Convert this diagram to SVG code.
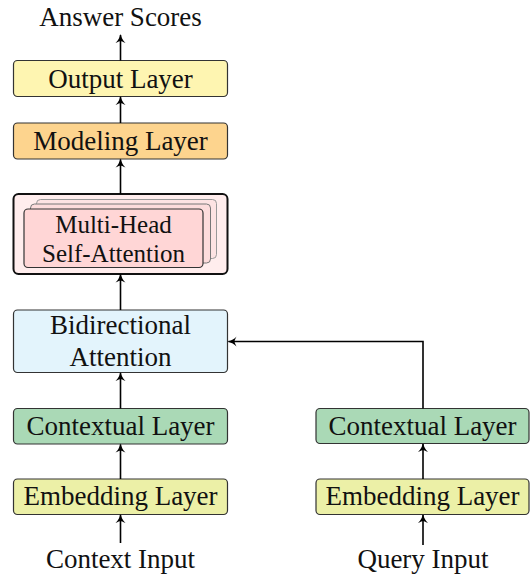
<svg xmlns="http://www.w3.org/2000/svg" width="531" height="577" viewBox="0 0 531 577">
<style>
text{font-family:"Liberation Serif","Times New Roman",serif;font-size:27px;fill:#111;text-anchor:middle}
.box{stroke:#333;stroke-width:1.2}
.small{font-size:25px}
.conn{fill:none;stroke:#000;stroke-width:1.6;marker-end:url(#arr)}
</style>
<defs>
<marker id="arr" markerUnits="userSpaceOnUse" viewBox="-10 -6 12 12" markerWidth="12" markerHeight="12" refX="0" refY="0" orient="auto">
<path d="M1,0 Q-5,-1.5 -8,-5 Q-6,-1 -6,0 Q-6,1 -8,5 Q-5,1.5 1,0 Z" fill="#000"/>
</marker>
</defs>
<rect width="531" height="577" fill="#fff"/>
<g id="answer-scores"><text x="120.5" y="26">Answer Scores</text></g>
<g id="output-layer"><rect class="box" x="13.5" y="60.5" width="214" height="36" rx="4" fill="#FEF5B1"/><text x="120.5" y="88">Output Layer</text></g>
<g id="modeling-layer"><rect class="box" x="13.5" y="123" width="214" height="36" rx="4" fill="#FDD48E"/><text x="120.5" y="150">Modeling Layer</text></g>
<g id="mhsa">
<rect x="13.5" y="194" width="214" height="80" rx="5" fill="#FFEDED" stroke="#111" stroke-width="2"/>
<rect x="36.5" y="199.5" width="180" height="59" rx="4" fill="#FDE3E3" stroke="#999" stroke-width="1"/>
<rect x="30.5" y="204" width="180" height="59" rx="4" fill="#FDDCDC" stroke="#777" stroke-width="1"/>
<rect x="24" y="209" width="179" height="58.5" rx="4" fill="#FFD6D6" stroke="#333" stroke-width="1.2"/>
<text class="small" x="113.5" y="233">Multi-Head</text>
<text class="small" x="113.5" y="261.5">Self-Attention</text>
</g>
<g id="bidirectional-attention"><rect class="box" x="13.5" y="310" width="214" height="62.5" rx="4" fill="#E3F4FC"/><text x="120.5" y="333.5">Bidirectional</text><text x="120.5" y="366">Attention</text></g>
<g id="context-contextual"><rect class="box" x="13.5" y="408.5" width="214" height="35.5" rx="4" fill="#AAD9B6"/><text x="120.5" y="435">Contextual Layer</text></g>
<g id="context-embedding"><rect class="box" x="13.5" y="479" width="214" height="35.5" rx="4" fill="#ECF0A7"/><text x="120.5" y="505">Embedding Layer</text></g>
<g id="context-input"><text x="120.5" y="568">Context Input</text></g>
<g id="query-contextual"><rect class="box" x="316" y="408.5" width="213" height="35" rx="4" fill="#AAD9B6"/><text x="422.5" y="435">Contextual Layer</text></g>
<g id="query-embedding"><rect class="box" x="316" y="479" width="213" height="35.5" rx="4" fill="#ECF0A7"/><text x="422.5" y="505">Embedding Layer</text></g>
<g id="query-input"><text x="423" y="568">Query Input</text></g>
<g id="connectors">
<path class="conn" d="M120.5,60.5 V35"/>
<path class="conn" d="M120.5,123 V97"/>
<path class="conn" d="M120.5,194 V159.5"/>
<path class="conn" d="M120.5,310 V274.5"/>
<path class="conn" d="M120.5,408.5 V373"/>
<path class="conn" d="M120.5,479 V444.5"/>
<path class="conn" d="M120.5,543 V515"/>
<path class="conn" d="M423,479 V444"/>
<path class="conn" d="M423,545 V515"/>
<path class="conn" d="M423,408.5 V341.5 H228.5"/>
</g>
</svg>
